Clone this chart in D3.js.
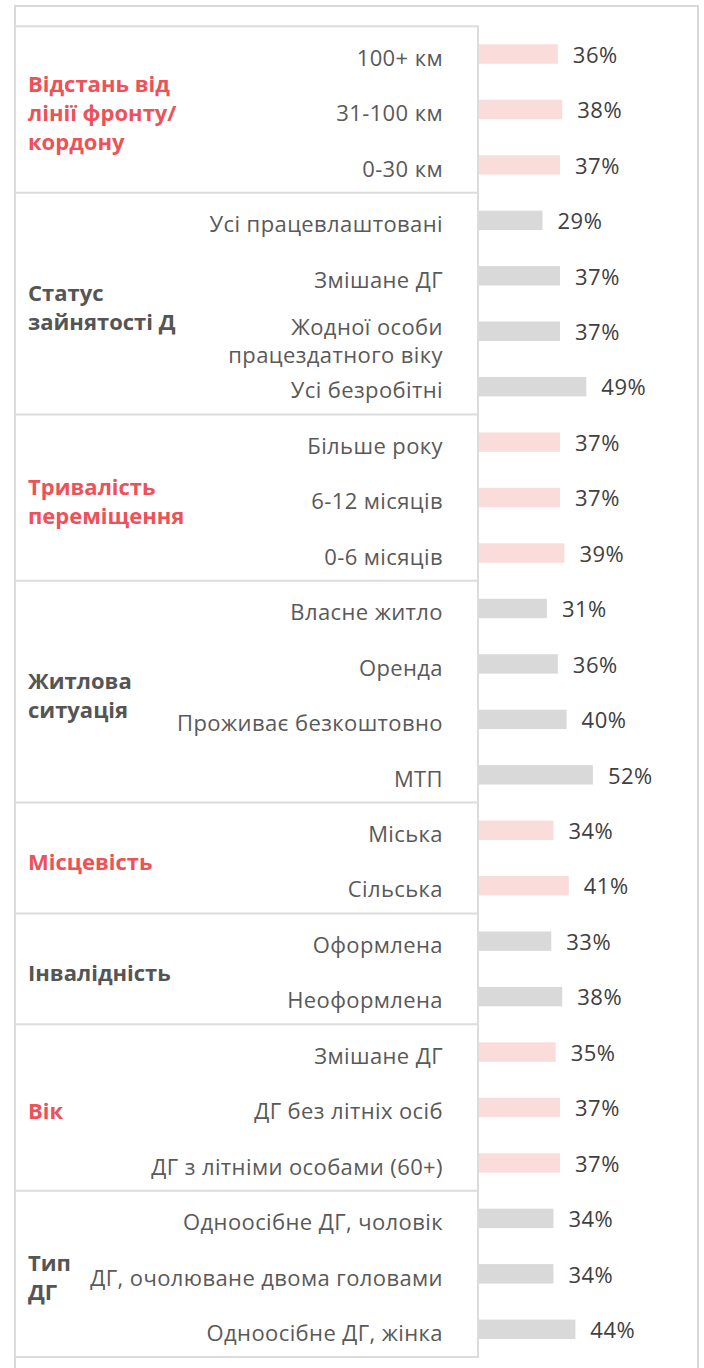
<!DOCTYPE html>
<html>
<head>
<meta charset="utf-8">
<script src="https://cdn.jsdelivr.net/npm/d3@7"></script>
<style>
  body { margin: 0; background: #fff; }
  text { font-family: "Open Sans", "Noto Sans", sans-serif; }
</style>
</head>
<body>
<div id="drawing"></div>
<script>
// data
var groupLabels = [
  ["Відстань від", "лінії фронту/", "кордону"],
  ["Статус", "зайнятості Д"],
  ["Тривалість", "переміщення"],
  ["Житлова", "ситуація"],
  ["Місцевість"],
  ["Інвалідність"],
  ["Вік"],
  ["Тип", "ДГ"]
];
var categories = [
  ["100+ км"], ["31-100 км"], ["0-30 км"],
  ["Усі працевлаштовані"], ["Змішане ДГ"], ["Жодної особи", "працездатного віку"], ["Усі безробітні"],
  ["Більше року"], ["6-12 місяців"], ["0-6 місяців"],
  ["Власне житло"], ["Оренда"], ["Проживає безкоштовно"], ["МТП"],
  ["Міська"], ["Сільська"],
  ["Оформлена"], ["Неоформлена"],
  ["Змішане ДГ"], ["ДГ без літніх осіб"], ["ДГ з літніми особами (60+)"],
  ["Одноосібне ДГ, чоловік"], ["ДГ, очолюване двома головами"], ["Одноосібне ДГ, жінка"]
];
var categoryGroup = [0,0,0, 1,1,1,1, 2,2,2, 3,3,3,3, 4,4, 5,5, 6,6,6, 7,7,7];
var values = [36,38,37, 29,37,37,49, 37,37,39, 31,36,40,52, 34,41, 33,38, 35,37,37, 34,34,44];

var width = 704;
var height = 1368;
var table = {left: 15, right: 478, top: 26.3, bottom: 1357};
var red = "#EE5157";
var dark = "#555555";

var rows = d3.range(categories.length);

var yScale = d3.scaleBand()
  .domain(rows)
  .range([table.top, table.bottom])
  .paddingInner(0.65)
  .paddingOuter(0.325);
var step = yScale.step();
var rowCenter = (i) => yScale(i) + yScale.bandwidth() / 2;

var xScale = d3.scaleLinear().domain([0, 100]).range([479, 698]);

var drawing = d3.select("#drawing").append("svg")
  .attr("width", width)
  .attr("height", height)
  .style("background", "#fff");

// outer frame
drawing.append("rect")
  .attr("x", 15).attr("y", 6)
  .attr("width", 683).attr("height", 1400)
  .style("fill", "none")
  .style("stroke", "#D9D9D9")
  .style("stroke-width", 2);

// table box
drawing.append("rect")
  .attr("x", table.left).attr("y", table.top)
  .attr("width", table.right - table.left)
  .attr("height", table.bottom - table.top)
  .style("fill", "none")
  .style("stroke", "#DCDCDC")
  .style("stroke-width", 2);

// group extents
var groups = groupLabels.map((g, gi) => {
  var idx = rows.filter((i) => categoryGroup[i] === gi);
  return {lines: g, first: d3.min(idx), last: d3.max(idx), gi: gi};
});

// separators
drawing.selectAll(".sep")
  .data(groups.slice(0, -1))
  .enter()
  .append("line")
    .attr("class", "sep")
    .attr("x1", table.left).attr("x2", table.right)
    .attr("y1", (d) => table.top + (d.last + 1) * step)
    .attr("y2", (d) => table.top + (d.last + 1) * step)
    .style("stroke", "#DCDCDC")
    .style("stroke-width", 2);

// group labels
var lineH = 29;
drawing.selectAll(".groupLabel")
  .data(groups)
  .enter()
  .append("text")
    .attr("class", "groupLabel")
    .attr("y", (d) => (rowCenter(d.first) + rowCenter(d.last)) / 2 + 4 - (d.lines.length - 1) * lineH / 2)
    .style("font-size", "22px")
    .style("font-weight", "bold")
    .style("fill", (d) => d.gi % 2 === 0 ? red : dark)
    .each(function(d) {
      d3.select(this).selectAll("tspan")
        .data(d.lines)
        .enter()
        .append("tspan")
          .attr("x", 28)
          .attr("dy", (l, i) => i === 0 ? "0.35em" : lineH)
          .text((l) => l);
    });

// category labels
drawing.selectAll(".catLabel")
  .data(rows)
  .enter()
  .append("text")
    .attr("class", "catLabel")
    .attr("text-anchor", "end")
    .attr("y", (i) => rowCenter(i) + 4 - (categories[i].length - 1) * 28 / 2 + (categories[i].length > 1 ? 6 : 0))
    .style("font-size", "22px")
    .style("letter-spacing", "0.4px")
    .style("fill", "#595959")
    .each(function(i) {
      d3.select(this).selectAll("tspan")
        .data(categories[i])
        .enter()
        .append("tspan")
          .attr("x", 443)
          .attr("dy", (l, k) => k === 0 ? "0.35em" : 28)
          .text((l) => l);
    });

// bars
drawing.selectAll(".bar")
  .data(rows)
  .enter()
  .append("rect")
    .attr("class", "bar")
    .attr("x", xScale(0))
    .attr("y", (i) => yScale(i))
    .attr("width", (i) => xScale(values[i]) - xScale(0))
    .attr("height", yScale.bandwidth())
    .style("fill", (i) => categoryGroup[i] % 2 === 0 ? "#FADCDB" : "#D9D9D9");

// value labels
drawing.selectAll(".valLabel")
  .data(rows)
  .enter()
  .append("text")
    .attr("class", "valLabel")
    .attr("x", (i) => xScale(values[i]) + 15)
    .attr("y", (i) => rowCenter(i) + 1)
    .attr("dy", "0.35em")
    .style("font-size", "22px")
    .style("letter-spacing", "0.5px")
    .style("fill", "#404040")
    .text((i) => values[i] + "%");
</script>
</body>
</html>
